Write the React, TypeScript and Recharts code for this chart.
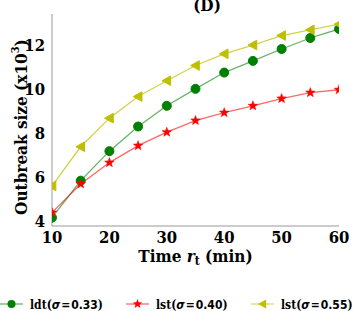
import { LineChart, Line, XAxis, YAxis, Legend, Label } from 'recharts';

const times = [10, 15, 20, 25, 30, 35, 40, 45, 50, 55, 60];
const ldt033 = [4.18, 5.86, 7.2, 8.32, 9.26, 10.03, 10.77, 11.3, 11.84, 12.34, 12.75];
const lst040 = [4.41, 5.71, 6.68, 7.45, 8.06, 8.59, 8.95, 9.26, 9.59, 9.86, 9.99];
const lst055 = [5.62, 7.4, 8.7, 9.68, 10.4, 11.09, 11.62, 12.02, 12.45, 12.71, 12.97];
const xTicks = [10, 20, 30, 40, 50, 60];
const yTicks = [4, 6, 8, 10, 12];

const data = times.map((t, i) => ({ t, a: ldt033[i], b: lst040[i], c: lst055[i] }));

const SERIF = "'DejaVu Serif Condensed', 'DejaVu Serif', serif";
const SANS = "'DejaVu Sans Condensed', 'DejaVu Sans', sans-serif";
const GREEN = '#008000';
const RED = '#ff0000';
const YELLOW = '#bfbf00';

// marker shapes
const circleDot = (p: any) => (
  <circle key={p.index} cx={p.cx} cy={p.cy} r={4.5} fill={GREEN} stroke={GREEN} />
);

function starPath(cx: number, cy: number, R: number) {
  const r = R * 0.42;
  let d = '';
  for (let i = 0; i < 10; i++) {
    const rad = i % 2 === 0 ? R : r;
    const ang = -Math.PI / 2 + (i * Math.PI) / 5;
    d += (i === 0 ? 'M' : 'L') + (cx + rad * Math.cos(ang)).toFixed(2) + ',' + (cy + rad * Math.sin(ang)).toFixed(2);
  }
  return d + 'Z';
}

const starDot = (p: any) => <path key={p.index} d={starPath(p.cx, p.cy, 5)} fill={RED} stroke={RED} strokeWidth={0.5} />;

const triPath = (cx: number, cy: number, s: number) =>
  `M${cx - s},${cy}L${cx + s * 0.8},${cy - s}L${cx + s * 0.8},${cy + s}Z`;

const triDot = (p: any) => <path key={p.index} d={triPath(p.cx, p.cy, 4.8)} fill={YELLOW} stroke={YELLOW} />;

const legendItems = [
  { name: 'ldt', sig: '0.33', color: GREEN, marker: 'o' },
  { name: 'lst', sig: '0.40', color: RED, marker: '*' },
  { name: 'lst', sig: '0.55', color: YELLOW, marker: '<' },
];
const legendX = [0, 126, 251];

function renderLegend() {
  return (
    <svg width={353} height={45} style={{ display: 'block' }}>
      {legendItems.map((it, i) => {
        const x0 = legendX[i];
        const y = 38;
        return (
          <g key={i}>
            <line x1={x0} x2={x0 + 23} y1={y} y2={y} stroke={it.color} strokeOpacity={0.5} strokeWidth={1.5} />
            {it.marker === 'o' && <circle cx={x0 + 11.5} cy={y} r={4} fill={it.color} />}
            {it.marker === '*' && <path d={starPath(x0 + 11.5, y, 5)} fill={it.color} />}
            {it.marker === '<' && <path d={triPath(x0 + 11.5, y, 4.5)} fill={it.color} />}
            <text x={x0 + 30} y={y + 4.5} fontSize={12} fontWeight="bold" fill="#000">
              <tspan fontFamily={SERIF}>{it.name}(</tspan>
              <tspan fontFamily={SANS} fontStyle="italic">σ</tspan>
              <tspan fontFamily={SANS} dx={1}>=</tspan>
              <tspan fontFamily={SANS} dx={1}>{it.sig}</tspan>
              <tspan fontFamily={SERIF}>)</tspan>
            </text>
          </g>
        );
      })}
    </svg>
  );
}

const tickStyle = { fontFamily: SERIF, fontSize: 16.5, fontWeight: 'bold', fill: '#000' };

export default function App() {
  return (
    <div style={{ position: 'absolute', left: 0, top: 0, width: 353, height: 311 }}>
      <LineChart width={353} height={311} data={data} margin={{ top: 14, right: 14, left: 0, bottom: 0 }}>
        <text x={207} y={11} textAnchor="middle" fontFamily={SERIF} fontSize={17} fontWeight="bold">(D)</text>
        <XAxis
          dataKey="t"
          type="number"
          domain={[10, 60]}
          ticks={xTicks}
          allowDataOverflow
          height={40}
          tickLine={false}
          axisLine={{ stroke: '#999' }}
          tick={tickStyle}
          tickMargin={-1}
        >
          <Label
            content={(props: any) => {
              const vb = props.viewBox;
              return (
                <text x={vb.x + vb.width / 2} y={vb.y + 36} textAnchor="middle" fontFamily={SERIF} fontSize={17} fontWeight="bold">
                  Time <tspan fontStyle="italic">r</tspan>
                  <tspan fontSize={12} dy={3}>t</tspan>
                  <tspan dy={-3}> (min)</tspan>
                </text>
              );
            }}
          />
        </XAxis>
        <XAxis xAxisId="top" orientation="top" dataKey="t" type="number" domain={[10, 60]} height={0} tick={false} tickLine={false} axisLine={{ stroke: '#999' }} />
        <YAxis
          type="number"
          domain={[3.8, 13.43]}
          ticks={yTicks}
          allowDataOverflow
          width={52}
          tickLine={false}
          axisLine={{ stroke: '#999' }}
          tick={tickStyle}
          tickMargin={1}
        >
          <Label
            content={() => (
              <text x={21} y={127} transform="rotate(-90 21 127)" textAnchor="middle" dominantBaseline="central" fontFamily={SERIF} fontSize={17} fontWeight="bold">
                Outbreak size (x10<tspan dy={-6} fontSize={11}>3</tspan>
                <tspan dy={6}>)</tspan>
              </text>
            )}
          />
        </YAxis>
        <YAxis yAxisId="right" orientation="right" domain={[3.8, 13.43]} width={0} tick={false} tickLine={false} axisLine={{ stroke: '#999' }} />
        <Legend verticalAlign="bottom" content={renderLegend} wrapperStyle={{ height: 45 }} />
        <Line dataKey="a" stroke={GREEN} strokeOpacity={0.6} strokeWidth={1.3} dot={circleDot} isAnimationActive={false} />
        <Line dataKey="b" stroke={RED} strokeOpacity={0.6} strokeWidth={1.3} dot={starDot} isAnimationActive={false} />
        <Line dataKey="c" stroke={YELLOW} strokeOpacity={0.7} strokeWidth={1.3} dot={triDot} isAnimationActive={false} />
      </LineChart>
    </div>
  );
}
